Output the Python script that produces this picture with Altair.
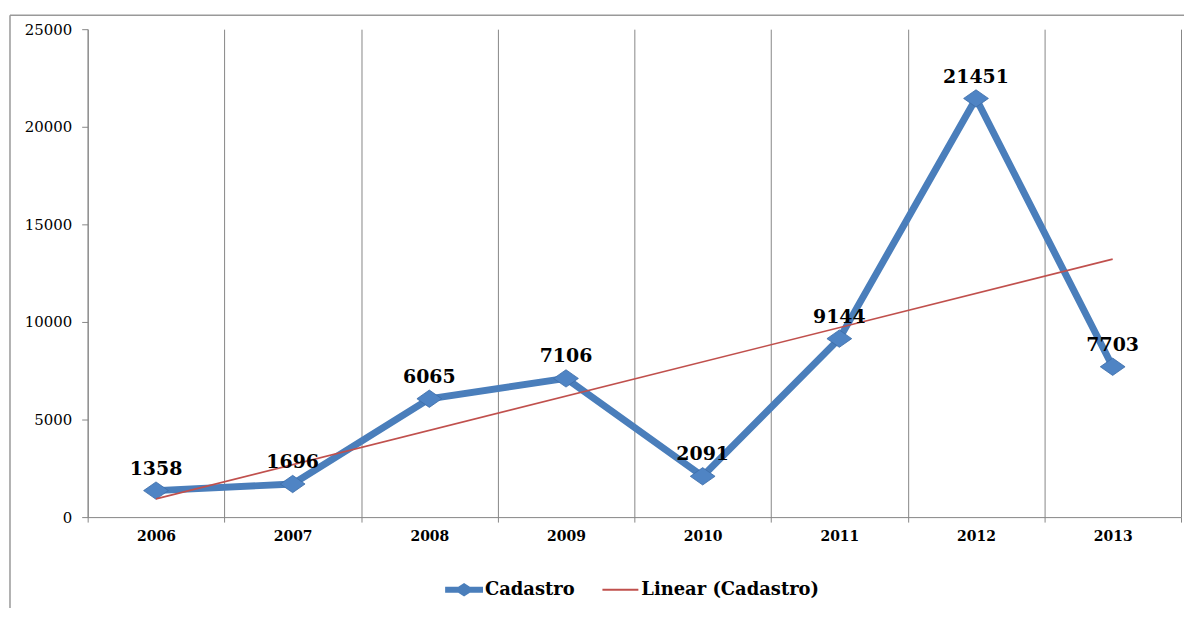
import json
import altair as alt
import pandas as pd

# ---- data ----
years = ["2006", "2007", "2008", "2009", "2010", "2011", "2012", "2013"]
cadastro = [1358, 1696, 6065, 7106, 2091, 9144, 21451, 7703]
series_names = ["Cadastro", "Linear (Cadastro)"]
y_ticks = [0, 5000, 10000, 15000, 20000, 25000]

df = pd.DataFrame({
    "year": years,
    "idx": list(range(len(years))),
    "value": cadastro,
})
legend_df = pd.DataFrame({"series": series_names})

blue = "#4A7EBB"
red = "#C0504D"
gray = "#868686"
serif = "DejaVu Serif"

# legend symbols: thick line with a diamond / thin line
sym_main = "M-1,-0.16L1,-0.16L1,0.16L-1,0.16Z M-0.55,0L0,-0.36L0.55,0L0,0.36Z"
sym_trend = "M-0.95,-0.05L0.95,-0.05L0.95,0.05L-0.95,0.05Z"
diamond = "M-1,0L0,-0.7L1,0L0,0.7Z"

x_axis = alt.Axis(
    labelAngle=0, tickBand="extent", grid=True, gridColor=gray, gridWidth=1,
    domainColor=gray, tickColor=gray, tickSize=5, labelPadding=7,
    labelFont=serif, labelFontWeight="bold", labelFontSize=14, labelColor="black",
    title=None,
)
x_scale = alt.Scale(type="band", domain=years, paddingInner=0, paddingOuter=0)


def X():
    return alt.X("year:O", scale=x_scale, axis=x_axis, bandPosition=0.5)


y_enc = alt.Y(
    "value:Q",
    scale=alt.Scale(domain=[0, 25000], nice=False),
    axis=alt.Axis(
        values=y_ticks, format="d", grid=False, title=None,
        labelFont=serif, labelFontSize=15, labelColor="black",
        tickSize=6, labelPadding=10, domainColor=gray, tickColor=gray,
    ),
)

base = alt.Chart(df)

line = base.mark_line(color=blue, strokeWidth=7, strokeJoin="miter").encode(x=X(), y=y_enc)

points = base.mark_point(
    shape=diamond, size=620, filled=True, fill="#4F84C4", stroke="#3D6DA8",
    strokeWidth=0.8, opacity=1,
).encode(x=X(), y="value:Q")

trend = (
    base.transform_regression("idx", "value", method="linear")
    .transform_calculate(year=f"{json.dumps(years)}[round(datum.idx)]")
    .mark_line(color=red, strokeWidth=1.6)
    .encode(x=X(), y="value:Q")
)

labels = base.mark_text(
    dy=-16, font=serif, fontWeight="bold", fontSize=19, color="black", baseline="alphabetic",
).encode(x=X(), y="value:Q", text=alt.Text("value:Q", format="d"))

legend_cfg = dict(
    title=None, orient="none", legendX=359, legendY=544, direction="horizontal",
    symbolSize=1444, symbolStrokeWidth=0, labelFont=serif, labelFontWeight="bold",
    labelFontSize=18, labelColor="black", labelOffset=2, columnPadding=26, padding=0,
    labelLimit=400,
)

legend_layer = alt.Chart(legend_df).mark_point(filled=True, size=0, opacity=1).encode(
    x=alt.value(0), y=alt.value(0),
    color=alt.Color("series:N", scale=alt.Scale(domain=series_names, range=[blue, red]),
                    legend=alt.Legend(**legend_cfg)),
    shape=alt.Shape("series:N", scale=alt.Scale(domain=series_names, range=[sym_main, sym_trend]),
                    legend=alt.Legend(**legend_cfg)),
)

frame_df = pd.DataFrame({"k": [0]})
frame_top = alt.Chart(frame_df).mark_rule(color="#999999", strokeWidth=1.5).encode(
    x=alt.value(-78), x2=alt.value(1120), y=alt.value(-14)
)
frame_left = alt.Chart(frame_df).mark_rule(color="#999999", strokeWidth=1.5).encode(
    x=alt.value(-78), y=alt.value(-14), y2=alt.value(620)
)

chart = alt.layer(
    frame_top, frame_left, line, points, trend, labels, legend_layer
).properties(
    width=1098, height=490, autosize="none",
    padding={"left": 80, "top": 20, "right": 3, "bottom": 90},
).configure_view(stroke=None)

chart.save("out.html", embed_options={"renderer": "svg", "actions": False})
